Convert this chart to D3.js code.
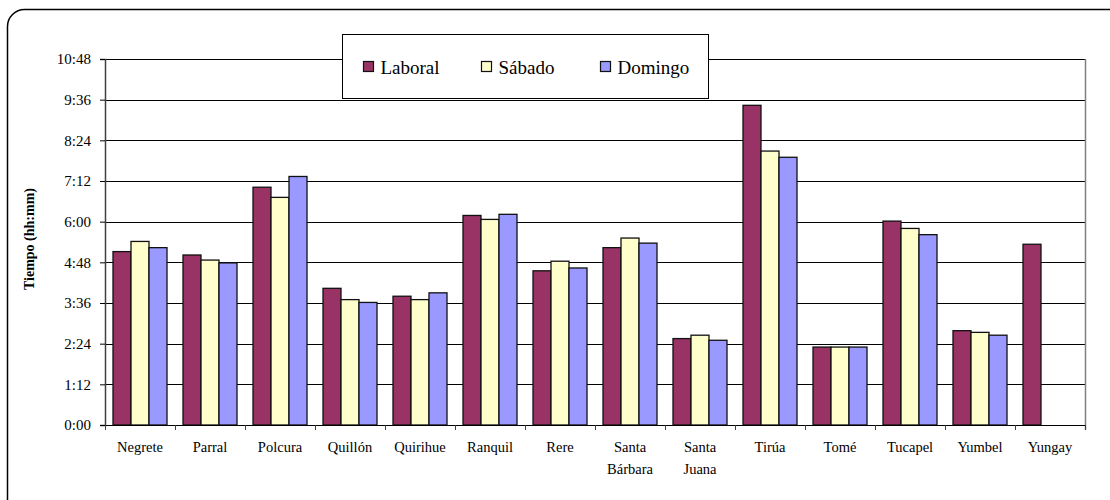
<!DOCTYPE html>
<html>
<head>
  <meta charset="utf-8">
  <title>Tiempo por comuna</title>
  <script src="https://d3js.org/d3.v7.min.js"></script>
  <style>
    body { margin: 0; background: #fff; }
    svg text { font-family: "Liberation Serif", "Times New Roman", serif; }
  </style>
</head>
<body>
  <div id="chart"></div>

  <script>
    // values in minutes
    var comunas = ["Negrete", "Parral", "Polcura", "Quillón", "Quirihue", "Ranquil", "Rere",
                   "Santa Bárbara", "Santa Juana", "Tirúa", "Tomé", "Tucapel", "Yumbel", "Yungay"];
    var laboral = [307, 301, 421, 242, 228, 371, 273, 314, 153, 566, 138, 361, 167, 320];
    var sabado  = [325, 292, 403, 222, 222, 364, 290, 331, 159, 485, 138, 348, 164, null];
    var domingo = [314, 287, 440, 217, 234, 373, 278, 322, 150, 474, 138, 337, 159, null];
    var series = ["Laboral", "Sábado", "Domingo"];
    var colors = ["#993366", "#ffffcc", "#9999ff"];
    var yTicks = [0, 72, 144, 216, 288, 360, 432, 504, 576, 648];

    var FONT = "'Liberation Serif', 'Times New Roman', serif";
    var W = 1110, H = 500;
    var margin = {top: 59, right: 25, bottom: 75, left: 105};
    var width = W - margin.left - margin.right;
    var height = H - margin.top - margin.bottom;

    function hhmm(m) {
      var h = Math.floor(m / 60), mm = m % 60;
      return h + ":" + (mm < 10 ? "0" : "") + mm;
    }

    var rows = comunas.map(function(c, i) {
      return {name: c, vals: [laboral[i], sabado[i], domingo[i]]};
    });

    var svg = d3.select("#chart").append("svg")
      .attr("width", W).attr("height", H)
      .style("display", "block");

    // outer frame
    svg.append("rect")
      .attr("x", 7.5).attr("y", 9.5)
      .attr("width", W + 10).attr("height", H + 10)
      .attr("rx", 17)
      .attr("fill", "none").attr("stroke", "#000").attr("stroke-width", 1.5);

    var g = svg.append("g")
      .attr("transform", "translate(" + margin.left + "," + margin.top + ")");

    var x = d3.scaleBand().domain(comunas).range([0, width]);
    var xs = d3.scaleBand().domain(series).range([8, x.bandwidth() - 8]);
    var y = d3.scaleLinear().domain([0, 648]).range([height, 0]);

    // gridlines
    g.append("g").selectAll("line")
      .data(yTicks.slice(1))
      .enter().append("line")
      .attr("x1", 0).attr("x2", width)
      .attr("y1", function(d) { return Math.round(y(d)) + 0.5; })
      .attr("y2", function(d) { return Math.round(y(d)) + 0.5; })
      .attr("stroke", "#000");

    // right border of plot
    g.append("line")
      .attr("x1", width + 0.5).attr("x2", width + 0.5)
      .attr("y1", Math.round(y(648))).attr("y2", height + 5)
      .attr("stroke", "#808080").attr("stroke-width", 1.5);

    // bars
    var grp = g.append("g").selectAll("g")
      .data(rows)
      .enter().append("g")
      .attr("transform", function(d) { return "translate(" + x(d.name) + ",0)"; });

    grp.selectAll("rect")
      .data(function(d) {
        return d.vals.map(function(v, j) { return {s: series[j], v: v, j: j}; })
          .filter(function(e) { return e.v != null; });
      })
      .enter().append("rect")
      .attr("x", function(d) { return xs(d.s); })
      .attr("y", function(d) { return y(d.v); })
      .attr("width", xs.bandwidth())
      .attr("height", function(d) { return height - y(d.v); })
      .attr("fill", function(d) { return colors[d.j]; })
      .attr("stroke", "#111").attr("stroke-width", 1.3);

    // y axis
    var yAxis = g.append("g")
      .call(d3.axisLeft(y).tickValues(yTicks).tickFormat(hhmm).tickSize(5).tickPadding(9));
    yAxis.attr("font-family", FONT);
    yAxis.select(".domain").attr("stroke", "#404040").attr("stroke-width", 1.5);
    yAxis.selectAll("text").attr("font-size", 15).attr("fill", "#000");

    // x axis
    var xAxis = g.append("g")
      .attr("transform", "translate(0," + height + ")")
      .call(d3.axisBottom(x).tickSize(0).tickPadding(18));
    xAxis.attr("font-family", FONT);
    xAxis.select(".domain").attr("stroke", "#000").attr("stroke-width", 1.2);
    xAxis.selectAll("text").remove();
    xAxis.selectAll(".tick").each(function(d) {
      var words = d.split(" ");
      var t = d3.select(this).append("text")
        .attr("fill", "#000").attr("font-size", 14.5)
        .attr("text-anchor", "middle")
        .attr("y", 27);
      words.forEach(function(w, i) {
        t.append("tspan").attr("x", 0).attr("dy", i === 0 ? 0 : 22).text(w);
      });
    });
    // band boundary ticks
    xAxis.append("g").selectAll("line")
      .data(d3.range(comunas.length + 1))
      .enter().append("line")
      .attr("x1", function(i) { return Math.round(i * x.step()) + 0.5; })
      .attr("x2", function(i) { return Math.round(i * x.step()) + 0.5; })
      .attr("y1", 0).attr("y2", 5)
      .attr("stroke", "#404040");

    // y title
    g.append("text")
      .attr("transform", "rotate(-90)")
      .attr("x", -height / 2 + 3)
      .attr("y", -margin.left + 34)
      .attr("text-anchor", "middle")
      .attr("font-size", 14).attr("font-weight", "bold")
      .text("Tiempo (hh:mm)");

    // legend
    var lg = svg.append("g").attr("transform", "translate(342.5,34.5)");
    lg.append("rect")
      .attr("width", 366).attr("height", 64)
      .attr("fill", "#fff").attr("stroke", "#000");
    var lx = [21, 139, 258];
    series.forEach(function(s, i) {
      lg.append("rect")
        .attr("x", lx[i]).attr("y", 27)
        .attr("width", 10).attr("height", 10)
        .attr("fill", colors[i]).attr("stroke", "#111").attr("stroke-width", 1.2);
      lg.append("text")
        .attr("x", lx[i] + 17).attr("y", 39)
        .attr("font-size", 19)
        .text(s);
    });
  </script>
</body>
</html>
